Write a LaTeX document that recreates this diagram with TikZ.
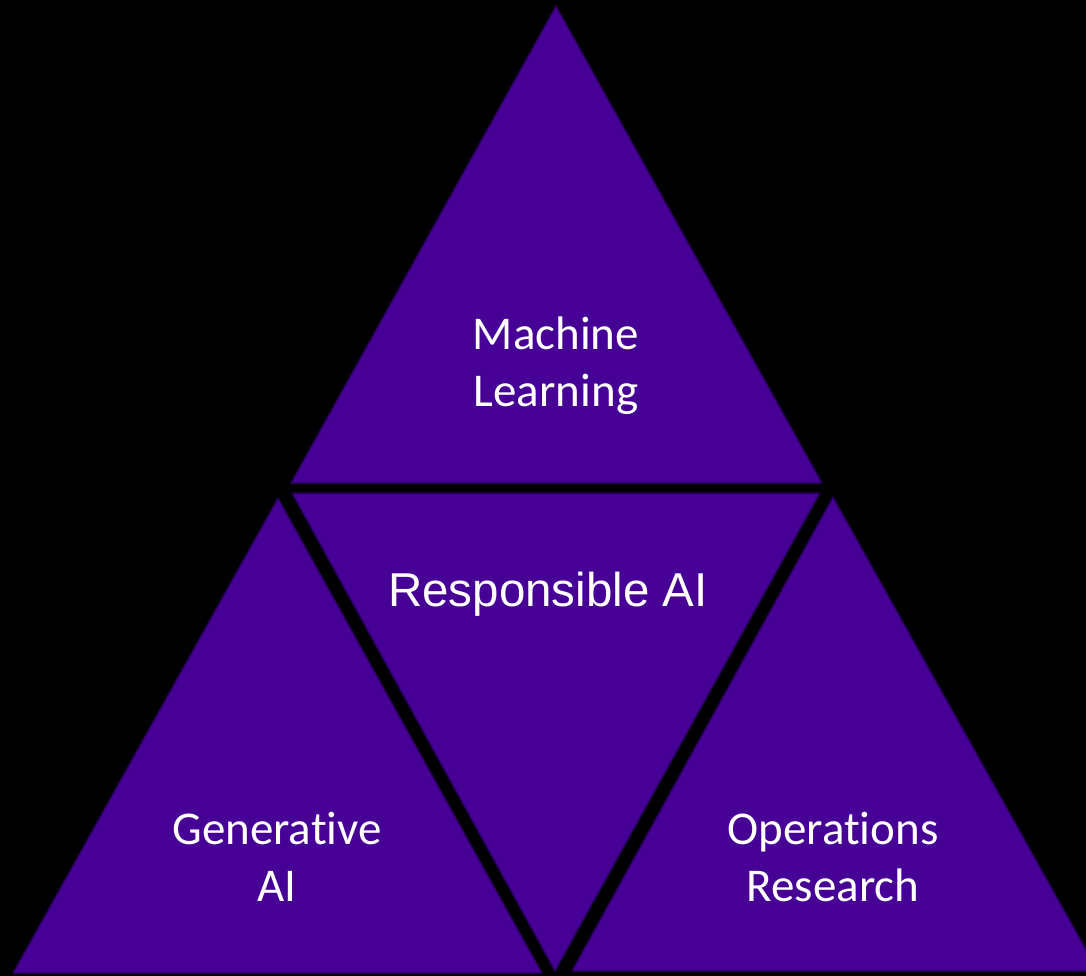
\documentclass[tikz,border=0pt]{standalone}
\usepackage{fontspec}
\setmainfont[Ligatures=NoCommon,RawFeature=-liga]{Carlito}
\newfontfamily\headfont{Liberation Sans}
\definecolor{triFill}{RGB}{71,0,150}
\definecolor{triLine}{RGB}{38,0,88}

\begin{document}
\begin{tikzpicture}[x=1pt,y=-1pt,
                    tri/.style={fill=triFill,draw=triLine,line width=1.5pt,line join=round},
                    tritext/.style={text=white,align=center,inner sep=0pt,font=\fontsize{47}{57}\selectfont}]
\clip (0,0) rectangle (1086,976);
\fill[black] (0,0) rectangle (1086,976);
% corners of the four triangles
\coordinate (mlTop)   at (556,6);
\coordinate (mlLeft)  at (291,483);
\coordinate (mlRight) at (822,483);
\coordinate (raLeft)  at (292,493);
\coordinate (raRight) at (820,493);
\coordinate (raBot)   at (555,971);
\coordinate (gaTop)   at (278,498);
\coordinate (gaLeft)  at (13,973);
\coordinate (gaRight) at (542,973);
\coordinate (orTop)   at (833,497);
\coordinate (orLeft)  at (572,971);
\coordinate (orRight) at (1098,971);
\draw[tri] (mlTop) -- (mlLeft) -- (mlRight) -- cycle;
\draw[tri] (raLeft) -- (raRight) -- (raBot) -- cycle;
\draw[tri] (gaTop) -- (gaLeft) -- (gaRight) -- cycle;
\draw[tri] (orTop) -- (orLeft) -- (orRight) -- cycle;
% labels
\node[tritext] (ml) at (556,366) {Machine\\Learning};
\node[tritext,font=\headfont\fontsize{47.5}{56}\selectfont,anchor=base] (ra) at (548,606) {Responsible AI};
\node[tritext] (ga) at (277,857) {Generative\\AI};
\node[tritext] (or) at (833,857) {Operations\\Research};
\end{tikzpicture}
\end{document}
